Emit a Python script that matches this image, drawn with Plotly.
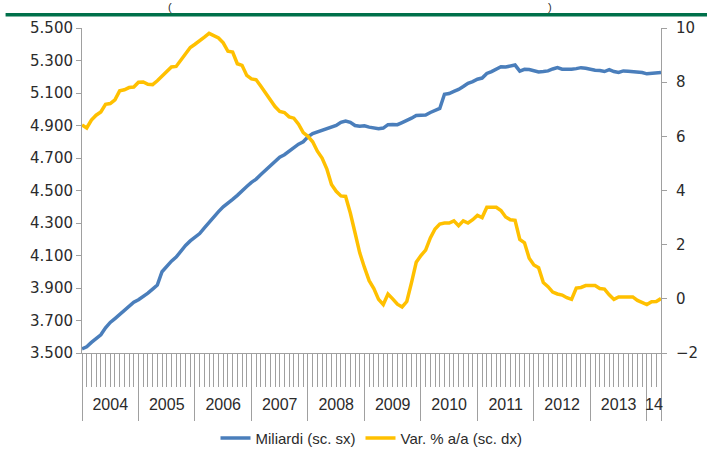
import plotly.graph_objects as go

# ---- data (monthly, Jan 2004 - Apr 2014) ----
miliardi = [
    3526, 3538, 3565, 3590, 3612, 3655, 3688, 3712, 3738, 3763, 3790, 3812,
    3828, 3845, 3868, 3893, 3918, 4000, 4035, 4065, 4090, 4130, 4162, 4190,
    4215, 4235, 4270, 4305, 4335, 4370, 4400, 4420, 4445, 4470, 4500, 4525,
    4550, 4570, 4598, 4625, 4650, 4675, 4705, 4720, 4742, 4768, 4785, 4800,
    4830, 4850, 4860, 4872, 4880, 4888, 4900, 4920, 4928, 4920, 4900, 4895,
    4898, 4890, 4884, 4880, 4884, 4905, 4906, 4905, 4918, 4930, 4945, 4962,
    4962, 4965, 4980, 4990, 5005, 5092, 5097, 5110, 5122, 5140, 5160, 5170,
    5185, 5192, 5220, 5232, 5248, 5262, 5260, 5264, 5272, 5235, 5246, 5244,
    5235, 5230, 5232, 5236, 5248, 5256, 5246, 5245, 5246, 5250, 5256, 5252,
    5244, 5240, 5238, 5232, 5244, 5232, 5226, 5236, 5234, 5232, 5230, 5226,
    5218, 5220, 5222, 5226,
]
var_aa = [
    6.42, 6.31, 6.60, 6.78, 6.90, 7.18, 7.21, 7.35, 7.68, 7.72, 7.80, 7.82,
    8.00, 8.01, 7.92, 7.91, 8.05, 8.22, 8.42, 8.56, 8.58, 8.80, 9.05, 9.28,
    9.40, 9.52, 9.66, 9.80, 9.72, 9.63, 9.45, 9.14, 9.11, 8.68, 8.62, 8.25,
    8.12, 8.09, 7.85, 7.60, 7.36, 7.10, 6.92, 6.88, 6.72, 6.67, 6.45, 6.14,
    6.00, 5.80, 5.45, 5.20, 4.80, 4.22, 3.97, 3.80, 3.78, 3.17, 2.44, 1.70,
    1.16, 0.67, 0.38, -0.02, -0.21, 0.18, 0.00, -0.20, -0.30, -0.10, 0.60, 1.35,
    1.60, 1.80, 2.25, 2.58, 2.76, 2.80, 2.80, 2.88, 2.70, 2.88, 2.80, 2.92,
    3.08, 3.00, 3.38, 3.38, 3.38, 3.26, 3.02, 2.92, 2.90, 2.19, 2.07, 1.50,
    1.25, 1.15, 0.60, 0.45, 0.25, 0.18, 0.14, 0.04, -0.02, 0.40, 0.42, 0.49,
    0.49, 0.49, 0.38, 0.36, 0.15, -0.02, 0.07, 0.07, 0.07, 0.07, -0.06, -0.15,
    -0.21, -0.11, -0.10, 0.01,
]
year_labels = ["2004", "2005", "2006", "2007", "2008", "2009",
               "2010", "2011", "2012", "2013", "14"]
months_per_year = [12] * 10 + [4]
left_ticks = [3500, 3700, 3900, 4100, 4300, 4500, 4700, 4900, 5100, 5300, 5500]
right_ticks = [-2, 0, 2, 4, 6, 8, 10]

names = ["Miliardi (sc. sx)", "Var. % a/a (sc. dx)"]
colors = ["#4A7EBB", "#FFC000"]

n = len(miliardi)
x = list(range(n))
last = n - 1
bounds = [0]
for m in months_per_year:
    bounds.append(min(bounds[-1] + m, last))
mids = [(bounds[k] + bounds[k + 1]) / 2 for k in range(len(year_labels))]

AX = "#A0A0A0"
TXT = "#2b2b2b"
TICKFONT = dict(family="DejaVu Sans", size=15, color=TXT)
LABFONT = dict(family="Liberation Sans, Arial, sans-serif", size=16, color=TXT)

fig = go.Figure()
fig.add_trace(go.Scatter(x=x, y=miliardi, name=names[0], mode="lines",
                         line=dict(color=colors[0], width=3.5), yaxis="y"))
fig.add_trace(go.Scatter(x=x, y=var_aa, name=names[1], mode="lines",
                         line=dict(color=colors[1], width=3.5), yaxis="y2"))
# invisible carrier so the year-label axis is drawn
fig.add_trace(go.Scatter(x=x, y=miliardi, xaxis="x2", yaxis="y", mode="lines",
                         line=dict(width=0, color="rgba(0,0,0,0)"),
                         showlegend=False, hoverinfo="skip"))

fig.update_layout(
    template="none",
    width=707, height=451,
    margin=dict(l=82, r=46, t=28, b=98, autoexpand=False),
    paper_bgcolor="white", plot_bgcolor="white",
    separators=",.",
    showlegend=True,
    legend=dict(orientation="h", x=0.5, xanchor="center", xref="paper",
                y=-0.262, yanchor="middle",
                font=dict(family="Liberation Sans, Arial, sans-serif",
                          size=15, color=TXT),
                itemwidth=30, tracegroupgap=0, bgcolor="rgba(0,0,0,0)"),
    xaxis=dict(range=[0, last], tickmode="array", tickvals=bounds,
               ticks="outside", ticklen=67, tickcolor=AX, tickwidth=1,
               showticklabels=False, showline=True, linecolor=AX, linewidth=1,
               showgrid=False, zeroline=False, automargin=False,
               minor=dict(tickmode="linear", tick0=0, dtick=1, ticks="outside",
                          ticklen=33, tickcolor=AX, tickwidth=1, showgrid=False)),
    xaxis2=dict(range=[0, last], overlaying="x", anchor="y", side="bottom",
                tickmode="array", tickvals=mids, ticktext=year_labels,
                ticks="", showline=False, showgrid=False, zeroline=False,
                automargin=False, ticklabelstandoff=40, tickfont=LABFONT),
    yaxis=dict(range=[3500, 5500], tickmode="array", tickvals=left_ticks,
               tickformat=",.0f", ticks="outside", ticklen=5, tickcolor=AX,
               showline=True, linecolor=AX, linewidth=1, showgrid=False,
               zeroline=False, automargin=False, tickfont=TICKFONT),
    yaxis2=dict(range=[-2, 10], tickmode="array", tickvals=right_ticks,
                overlaying="y", side="right", anchor="x",
                ticks="outside", ticklen=5, tickcolor=AX,
                showline=True, linecolor=AX, linewidth=1, showgrid=False,
                zeroline=False, automargin=False, tickfont=TICKFONT,
                ticklabelstandoff=6),
)

# header rule and title brackets
fig.add_shape(type="line", xref="paper", yref="paper",
              x0=-0.132, x1=1.08, y0=1.041, y1=1.041,
              line=dict(color="#00704A", width=3.5))
for txt, xp in [("(", 0.152), (")", 0.808)]:
    fig.add_annotation(text=txt, xref="paper", yref="paper", x=xp, y=1.066,
                       xanchor="center", yanchor="middle", showarrow=False,
                       font=dict(family="Liberation Sans", size=11, color=TXT))

fig.write_html("out.html",
               config={"displayModeBar": False},
               post_script="document.body.style.margin='0';"
                           "document.body.style.overflow='hidden';")
